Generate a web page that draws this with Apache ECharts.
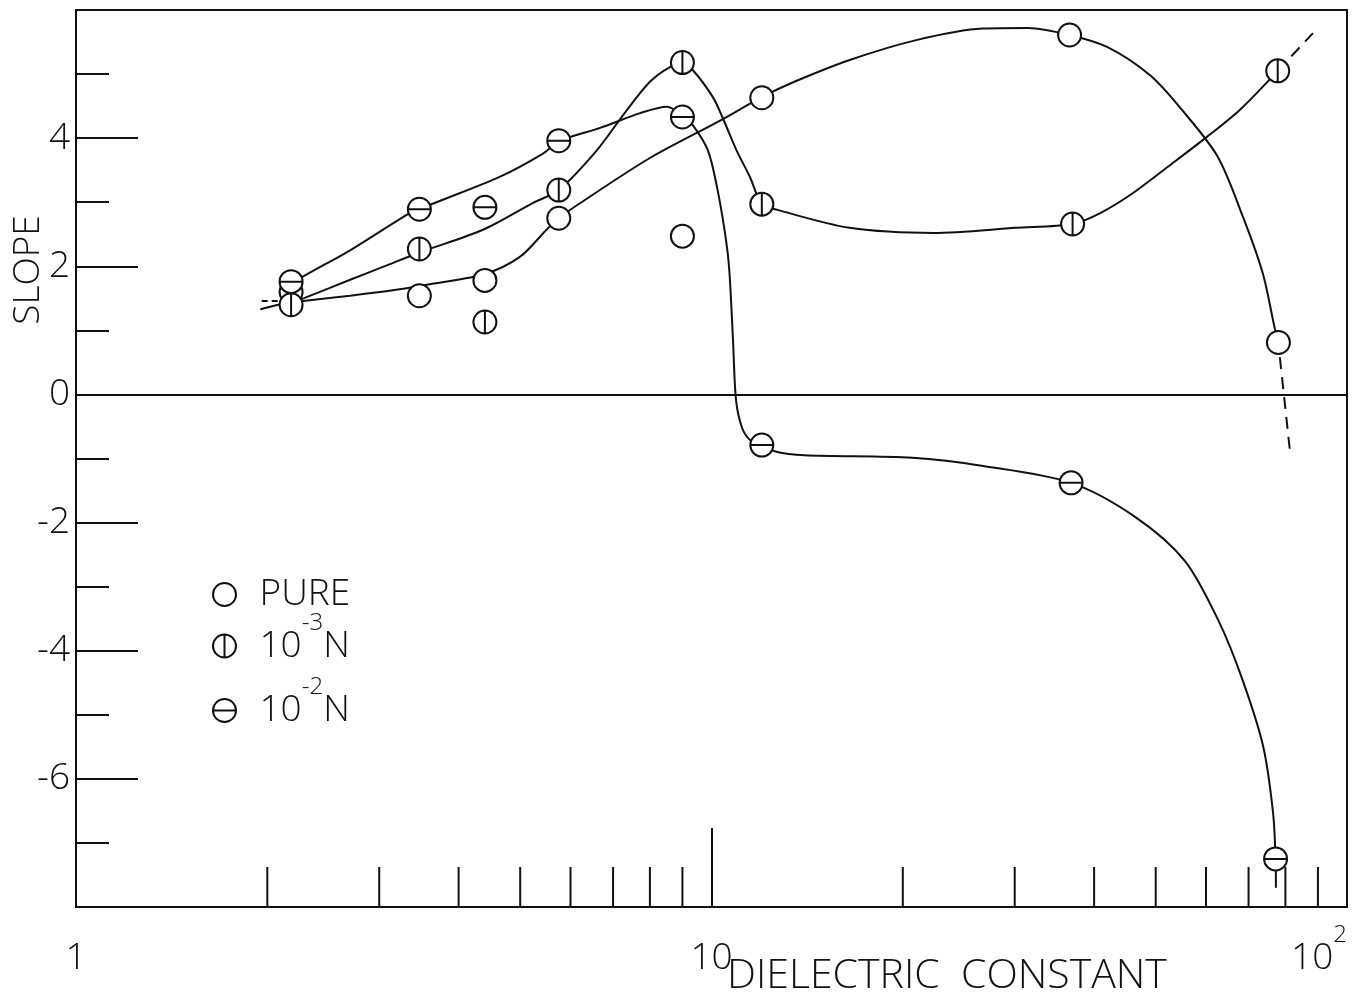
<!DOCTYPE html>
<html>
<head>
<meta charset="utf-8">
<title>Slope vs dielectric constant</title>
<script src="https://cdn.jsdelivr.net/npm/echarts@6/dist/echarts.min.js"></script>
<style>
  html, body { margin: 0; padding: 0; background: #fff; }
  #chart { width: 1352px; height: 999px; }
</style>
</head>
<body>
<div id="chart"></div>
<script>
const xMin = 1
const xMax = 100
const yMin = -8
const yMax = 6
const xMinorTicks = [2, 3, 4, 5, 6, 7, 8, 9, 20, 30, 40, 50, 60, 70, 80, 90]

// measured points [dielectric constant, slope]
const purePoints = [[2.18, 1.60], [3.47, 1.54], [4.4, 1.78], [5.75, 2.75], [9.0, 2.47], [12.0, 4.63], [36.6, 5.61], [78, 0.81]]
const n3Points = [[2.18, 1.40], [3.47, 2.27], [4.4, 1.13], [5.75, 3.19], [9.0, 5.18], [12.0, 2.97], [37, 2.66], [77.8, 5.05]]
const n2Points = [[2.18, 1.76], [3.47, 2.89], [4.4, 2.92], [5.75, 3.96], [9.0, 4.33], [12.0, -0.79], [36.8, -1.38], [77.2, -7.25]]

// hand drawn curves
const pureCurve = [[2.19, 1.44], [2.70, 1.54], [3.23, 1.64], [3.65, 1.73], [4.4, 1.88], [5.0, 2.15], [5.5, 2.57], [5.75, 2.75],
  [6.2, 2.98], [8.0, 3.69], [10.3, 4.27], [12.0, 4.64], [13.5, 4.88], [16.5, 5.22], [21.0, 5.53], [26.7, 5.71], [31.5, 5.72],
  [36.6, 5.61], [42.0, 5.42], [49.0, 4.98], [55.0, 4.44], [62.6, 3.71], [68.6, 2.77], [73.7, 1.89], [76.9, 1.05], [78, 0.80]]
const n3Curve = [[2.19, 1.44], [2.28, 1.50], [2.70, 1.79], [3.04, 1.99], [3.48, 2.22], [4.37, 2.57], [5.24, 2.99], [5.75, 3.19],
  [6.6, 3.81], [7.31, 4.40], [8.0, 4.88], [8.6, 5.11], [9.0, 5.17], [9.35, 5.06], [10.05, 4.64], [10.4, 4.33], [10.95, 3.81],
  [11.5, 3.39], [12.0, 2.97], [12.7, 2.88], [16.5, 2.60], [22.4, 2.52], [30.1, 2.60], [37, 2.66], [40.9, 2.83], [46.0, 3.14],
  [52.2, 3.55], [60.2, 4.02], [67.8, 4.44], [77.8, 5.05]]
const n2Curve = [[2.19, 1.72], [2.25, 1.81], [2.70, 2.25], [3.35, 2.83], [3.48, 2.89], [3.65, 2.98], [4.65, 3.40], [5.43, 3.76],
  [5.78, 3.96], [6.68, 4.16], [7.72, 4.39], [8.51, 4.49], [8.99, 4.36], [9.35, 4.20], [9.87, 3.81], [10.2, 3.24], [10.5, 2.52],
  [10.66, 1.97], [10.81, 0.85], [10.93, -0.09], [11.17, -0.52], [11.5, -0.71], [12.0, -0.79], [12.6, -0.89], [14.0, -0.95],
  [20.7, -0.99], [26.9, -1.12], [36.8, -1.38], [46.4, -1.91], [55.6, -2.60], [62.9, -3.55], [68.4, -4.44], [73.8, -5.49],
  [76.5, -6.53], [77.2, -7.25], [77.3, -7.70]]
const pureDash = [[78.4, 0.58], [81.3, -0.87]]
const n3Dash = [[77.8, 5.05], [88.4, 5.64]]
const leftLead = [[1.95, 1.33], [2.18, 1.45]]
const leftDash = [[1.96, 1.46], [2.08, 1.46]]

const ink = '#111'
const font = '"Open Sans", "DejaVu Sans", sans-serif'
const circle = 'path://M12,1A11,11,0,1,1,12,23A11,11,0,1,1,12,1Z'
const circleV = circle + 'M12,1L12,23'
const circleH = circle + 'M1,12L23,12'

const legendText = {
  'PURE': '{a|PURE}',
  '10⁻³N': '{b|10}{s|-3}{b|N}',
  '10⁻²N': '{c|10}{t|-2}{c|N}'
}

function curve(name, data, dashed) {
  return {
    name: name,
    type: 'line',
    data: data,
    symbol: 'none',
    smooth: dashed ? false : 0.3,
    silent: true,
    z: 2,
    lineStyle: { color: ink, width: 2, type: dashed ? [12, 8] : 'solid' }
  }
}

function points(name, data, symbol) {
  return {
    name: name,
    type: 'scatter',
    data: data,
    symbol: symbol,
    symbolSize: 23,
    symbolKeepAspect: true,
    z: 5,
    itemStyle: { color: '#fff', borderColor: ink, borderWidth: 2, opacity: 1 }
  }
}

const myChart = echarts.init(document.getElementById('chart'))
myChart.setOption({
  animation: false,
  backgroundColor: '#fff',
  textStyle: { fontFamily: font, color: ink },
  title: {
    text: 'DIELECTRIC  CONSTANT',
    left: 722,
    top: 951,
    textStyle: { fontFamily: font, fontSize: 41, fontWeight: 300, color: ink }
  },
  graphic: [{
    type: 'text',
    x: 28,
    y: 270,
    rotation: Math.PI / 2,
    style: {
      text: 'SLOPE',
      fontFamily: font,
      fontSize: 37,
      fontWeight: 300,
      fill: ink,
      align: 'center',
      verticalAlign: 'middle'
    }
  }],
  legend: {
    data: ['PURE', '10⁻³N', '10⁻²N'],
    orient: 'vertical',
    left: 207,
    top: 571,
    itemWidth: 60,
    itemHeight: 23,
    itemGap: -2,
    selectedMode: false,
    itemStyle: { color: '#fff', borderColor: ink, borderWidth: 2 },
    formatter: name => legendText[name],
    textStyle: {
      color: ink,
      rich: {
        a: { fontFamily: font, fontSize: 37, fontWeight: 300, lineHeight: 34, verticalAlign: 'middle' },
        b: { fontFamily: font, fontSize: 37, fontWeight: 300, lineHeight: 70, verticalAlign: 'middle' },
        s: { fontFamily: font, fontSize: 24, fontWeight: 300, lineHeight: 20, verticalAlign: 'top' },
        c: { fontFamily: font, fontSize: 37, fontWeight: 300, lineHeight: 96, verticalAlign: 'middle' },
        t: { fontFamily: font, fontSize: 24, fontWeight: 300, lineHeight: 20, verticalAlign: 'top', padding: [13, 0, 0, 0] }
      }
    }
  },
  grid: {
    left: 76,
    top: 10,
    right: 5,
    bottom: 92,
    show: true,
    borderColor: ink,
    borderWidth: 2,
    outerBoundsMode: 'none'
  },
  xAxis: {
    type: 'log',
    logBase: 10,
    min: xMin,
    max: xMax,
    axisLine: { onZero: false, lineStyle: { color: ink, width: 2 } },
    axisTick: { inside: true, length: 79, lineStyle: { color: ink, width: 2 } },
    splitLine: { show: false },
    axisLabel: {
      margin: 16,
      alignMinLabel: 'center',
      alignMaxLabel: 'right',
      formatter: v => v === 100 ? '{b|10}{s|2}' : '{b|' + v + '}',
      rich: {
        b: { fontFamily: font, fontSize: 37, fontWeight: 300, color: ink, lineHeight: 70, verticalAlign: 'middle' },
        s: { fontFamily: font, fontSize: 24, fontWeight: 300, color: ink, lineHeight: 20, verticalAlign: 'top' }
      }
    }
  },
  yAxis: {
    type: 'value',
    min: yMin,
    max: yMax,
    interval: 2,
    axisLine: { lineStyle: { color: ink, width: 2 } },
    axisTick: { inside: true, length: 62, lineStyle: { color: ink, width: 2 } },
    minorTick: { show: true, splitNumber: 2, length: 33, lineStyle: { color: ink, width: 2 } },
    splitLine: { show: false },
    axisLabel: {
      margin: 6,
      fontFamily: font,
      fontSize: 37,
      fontWeight: 300,
      color: ink,
      formatter: v => (v === yMin || v === yMax) ? '' : String(v)
    }
  },
  series: [
    {
      name: 'minor ticks',
      type: 'custom',
      silent: true,
      data: xMinorTicks.map(v => [v, yMin]),
      renderItem: function(params, api) {
        const p = api.coord([api.value(0), api.value(1)])
        return {
          type: 'line',
          shape: { x1: p[0], y1: p[1], x2: p[0], y2: p[1] - 40 },
          style: { stroke: ink, lineWidth: 2 }
        }
      },
      z: 1
    },
    Object.assign(curve('pure curve', pureCurve, false), {
      markLine: {
        silent: true,
        symbol: 'none',
        label: { show: false },
        lineStyle: { color: ink, width: 2, type: 'solid' },
        data: [{ yAxis: 0 }]
      }
    }),
    curve('n3 curve', n3Curve, false),
    curve('n2 curve', n2Curve, false),
    curve('pure dash', pureDash, true),
    curve('n3 dash', n3Dash, true),
    curve('left lead', leftLead, false),
    Object.assign(curve('left dash', leftDash, true), { lineStyle: { color: ink, width: 2, type: [6, 4] } }),
    points('PURE', purePoints, circle),
    points('10⁻³N', n3Points, circleV),
    points('10⁻²N', n2Points, circleH)
  ]
})
</script>
</body>
</html>
